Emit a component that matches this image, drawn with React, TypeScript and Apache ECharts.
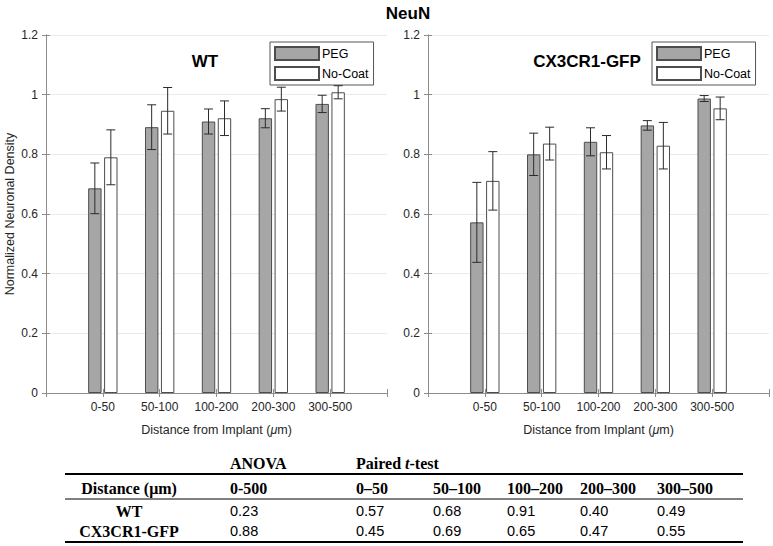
import React, { useEffect, useRef } from 'react';
import * as echarts from 'echarts';

// ---------- data ----------
const categories = ['0-50', '50-100', '100-200', '200-300', '300-500'];

const wtPeg = [0.686, 0.891, 0.91, 0.921, 0.969];
const wtPegErr = [0.085, 0.075, 0.042, 0.032, 0.029];
const wtNoCoat = [0.79, 0.946, 0.921, 0.985, 1.008];
const wtNoCoatErr = [0.092, 0.078, 0.058, 0.04, 0.022];

const cxPeg = [0.572, 0.8, 0.842, 0.897, 0.987];
const cxPegErr = [0.134, 0.071, 0.047, 0.016, 0.01];
const cxNoCoat = [0.711, 0.836, 0.807, 0.829, 0.954];
const cxNoCoatErr = [0.098, 0.055, 0.056, 0.078, 0.038];

const seriesNames = ['PEG', 'No-Coat'];
const panelTitles = ['WT', 'CX3CR1-GFP'];
const mainTitle = 'NeuN';
const yAxisTitle = 'Normalized Neuronal Density';

const tableColumns = ['Distance (μm)', '0-500', '0–50', '50–100', '100–200', '200–300', '300–500'];
const tableRows = ['WT', 'CX3CR1-GFP'];
const anovaP = [0.23, 0.88];
const wtPaired = [0.57, 0.68, 0.91, 0.4, 0.49];
const cxPaired = [0.45, 0.69, 0.65, 0.47, 0.55];

// ---------- styles ----------
const SANS = "'Liberation Sans', Arial, sans-serif";
const SERIF = "'Liberation Serif', 'Times New Roman', serif";
const AX = '#8c8c8c';
const TXT = '#262626';
const BAR_W = 13.4;
const OFF = 8;

const gridsPos = [
  { left: 46, top: 35, width: 341, height: 358 },
  { left: 428, top: 35, width: 341, height: 358 },
];

function errorSeries(vals: number[], errs: number[], offset: number, g: number) {
  return {
    type: 'custom',
    xAxisIndex: g * 2,
    yAxisIndex: g * 2,
    z: 10,
    silent: true,
    data: vals.map((v, i) => [i + 1, v, errs[i]]),
    renderItem: (params: any, api: any) => {
      const x = api.value(0);
      const y = api.value(1);
      const e = api.value(2);
      const top = api.coord([x, y + e]);
      const bot = api.coord([x, y - e]);
      const cx = top[0] + offset;
      const hw = 4.5;
      const st = { stroke: '#2b2b2b', lineWidth: 1 };
      return {
        type: 'group',
        children: [
          { type: 'line', shape: { x1: cx, y1: top[1], x2: cx, y2: bot[1] }, style: st },
          { type: 'line', shape: { x1: cx - hw, y1: top[1], x2: cx + hw, y2: top[1] }, style: st },
          { type: 'line', shape: { x1: cx - hw, y1: bot[1], x2: cx + hw, y2: bot[1] }, style: st },
        ],
      };
    },
  };
}

function barSeries(name: string, vals: number[], g: number, color: string, border: string) {
  return {
    type: 'bar',
    name,
    xAxisIndex: g * 2,
    yAxisIndex: g * 2,
    barWidth: BAR_W,
    barGap: '19%',
    data: vals.map((v, i) => [i + 1, v]),
    itemStyle: { color, borderColor: border, borderWidth: 1 },
    silent: true,
  };
}

export default function App() {
  const ref = useRef<HTMLDivElement>(null);

  useEffect(() => {
    if (!ref.current) return;
    const chart = echarts.init(ref.current, undefined, { renderer: 'svg' });

    const xAxes: any[] = [];
    const yAxes: any[] = [];
    gridsPos.forEach((_, g) => {
      xAxes.push({
        gridIndex: g,
        type: 'value',
        min: 0,
        max: 6,
        interval: 1,
        position: 'bottom',
        axisLine: { show: true, lineStyle: { color: AX } },
        axisTick: { show: true, inside: true, length: 4, lineStyle: { color: AX } },
        splitLine: { show: false },
        axisLabel: {
          color: TXT,
          fontSize: 12,
          fontFamily: SANS,
          margin: 8,
          formatter: (v: number) => categories[v - 1] ?? '',
        },
        name: 'Distance from Implant ({i|μ}m)',
        nameLocation: 'middle',
        nameGap: 30,
        nameTextStyle: {
          color: TXT,
          fontSize: 12.5,
          fontFamily: SANS,
          rich: { i: { fontStyle: 'italic', fontSize: 12.5, fontFamily: SANS, color: TXT } },
        },
      });
      xAxes.push({
        gridIndex: g,
        type: 'value',
        min: 0,
        max: 6,
        interval: 1,
        position: 'top',
        axisLine: { show: true, lineStyle: { color: AX } },
        axisTick: { show: true, inside: true, length: 4, lineStyle: { color: AX } },
        splitLine: { show: false },
        axisLabel: { show: false },
      });
      yAxes.push({
        gridIndex: g,
        type: 'value',
        min: 0,
        max: 1.2,
        interval: 0.2,
        position: 'left',
        axisLine: { show: true, lineStyle: { color: AX } },
        axisTick: { show: true, inside: true, length: 4, lineStyle: { color: AX } },
        splitLine: { show: true, lineStyle: { color: '#ebebeb', width: 1 } },
        axisLabel: { color: TXT, fontSize: 12, fontFamily: SANS, margin: 8 },
        name: g === 0 ? yAxisTitle : '',
        nameLocation: 'middle',
        nameGap: 30,
        nameTextStyle: { color: TXT, fontSize: 12.5, fontFamily: SANS },
      });
      yAxes.push({
        gridIndex: g,
        type: 'value',
        min: 0,
        max: 1.2,
        interval: 0.2,
        position: 'right',
        axisLine: { show: true, lineStyle: { color: AX } },
        axisTick: { show: true, inside: true, length: 4, lineStyle: { color: AX } },
        splitLine: { show: false },
        axisLabel: { show: false },
      });
    });

    const legendBase = {
      data: seriesNames,
      orient: 'vertical',
      top: 42,
      itemWidth: 44,
      itemHeight: 13,
      itemGap: 5,
      padding: [4, 5, 4, 4],
      borderColor: '#555',
      borderWidth: 1,
      backgroundColor: '#fff',
      icon: 'rect',
      selectedMode: false,
      textStyle: { fontSize: 12.5, color: '#000', fontFamily: SANS, padding: [0, 0, 0, -2] },
    };

    // ---- table graphics ----
    const colX = [129, 230, 356, 433, 507, 580, 657];
    const gfx: any[] = [];
    const hdrFont = `bold 16px ${SERIF}`;
    const numFont = `14.5px ${SANS}`;
    const addText = (text: string, x: number, y: number, font: string, align: string, extra: any = {}) =>
      gfx.push({
        type: 'text',
        x,
        y,
        style: { text, font, fill: '#000', align, verticalAlign: 'middle', ...extra },
      });

    // group headers
    addText('ANOVA', colX[1], 463, hdrFont, 'left');
    gfx.push({
      type: 'text',
      x: colX[2],
      y: 463,
      style: {
        text: '{b|Paired }{i|t}{b|-test}',
        align: 'left',
        verticalAlign: 'middle',
        rich: {
          b: { font: hdrFont, fill: '#000' },
          i: { font: `italic bold 16px ${SERIF}`, fill: '#000' },
        },
      },
    });
    tableColumns.forEach((c, i) => addText(c, colX[i], 488, hdrFont, i === 0 ? 'center' : 'left'));
    const rowY = [511, 531];
    const pairedRows = [wtPaired, cxPaired];
    tableRows.forEach((r, ri) => {
      addText(r, colX[0], rowY[ri], hdrFont, 'center');
      addText(anovaP[ri].toFixed(2), colX[1], rowY[ri], numFont, 'left');
      pairedRows[ri].forEach((v, ci) => addText(v.toFixed(2), colX[ci + 2], rowY[ri], numFont, 'left'));
    });
    const hline = (y: number, w: number) =>
      gfx.push({ type: 'line', shape: { x1: 65, y1: y, x2: 743, y2: y }, style: { stroke: '#000', lineWidth: w } });
    hline(474, 2);
    hline(499, 1);
    hline(542, 2);

    // titles
    addText(mainTitle, 408, 13, `bold 17px 'Liberation Sans Narrow', 'Arial Narrow', ${SANS}`, 'center');
    addText(panelTitles[0], 205, 61, `bold 17px ${SANS}`, 'center');
    addText(panelTitles[1], 587, 61, `bold 17px ${SANS}`, 'center');

    chart.setOption({
      animation: false,
      backgroundColor: '#fff',
      grid: gridsPos.map((p) => ({ ...p, containLabel: false })),
      xAxis: xAxes,
      yAxis: yAxes,
      legend: [
        { ...legendBase, left: 270 },
        { ...legendBase, left: 652 },
      ],
      series: [
        barSeries(seriesNames[0], wtPeg, 0, '#a6a6a6', '#4d4d4d'),
        barSeries(seriesNames[1], wtNoCoat, 0, '#ffffff', '#4d4d4d'),
        barSeries(seriesNames[0], cxPeg, 1, '#a6a6a6', '#4d4d4d'),
        barSeries(seriesNames[1], cxNoCoat, 1, '#ffffff', '#4d4d4d'),
        errorSeries(wtPeg, wtPegErr, -OFF, 0),
        errorSeries(wtNoCoat, wtNoCoatErr, OFF, 0),
        errorSeries(cxPeg, cxPegErr, -OFF, 1),
        errorSeries(cxNoCoat, cxNoCoatErr, OFF, 1),
      ],
      graphic: gfx,
    });

    return () => chart.dispose();
  }, []);

  return (
    <div
      ref={ref}
      style={{ position: 'fixed', left: 0, top: 0, width: 773, height: 546, background: '#fff' }}
    />
  );
}
